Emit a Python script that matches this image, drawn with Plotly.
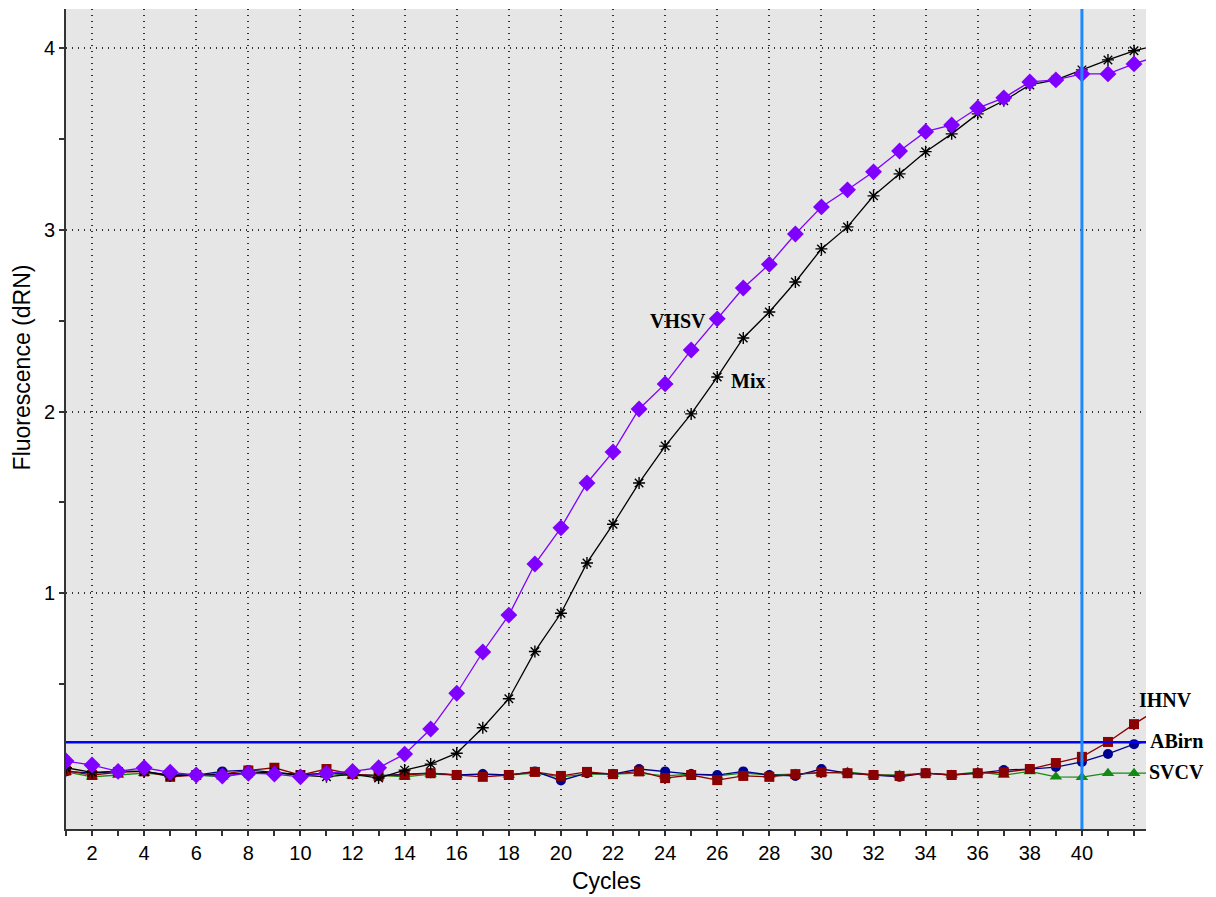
import plotly.graph_objects as go

cycles = list(range(1, 44))

vhsv = [0.077, 0.055, 0.02, 0.04, 0.015, 0.0, -0.005, 0.01, 0.005, -0.01, 0.01, 0.02, 0.04,
        0.115, 0.253, 0.45, 0.677, 0.88, 1.161, 1.36, 1.607, 1.778, 2.014, 2.152, 2.339,
        2.51, 2.68, 2.81, 2.977, 3.126, 3.22, 3.319, 3.434, 3.54, 3.577, 3.67, 3.726,
        3.814, 3.825, 3.858, 3.858, 3.913, 3.96]
mix = [0.04, 0.015, 0.02, 0.02, -0.005, 0.0, 0.005, 0.01, 0.015, 0.0, -0.01, 0.005, -0.017,
       0.027, 0.06, 0.12, 0.26, 0.42, 0.68, 0.89, 1.167, 1.38, 1.607, 1.81, 1.987, 2.19,
       2.405, 2.548, 2.713, 2.895, 3.016, 3.187, 3.308, 3.43, 3.528, 3.638, 3.71, 3.797,
       3.825, 3.88, 3.935, 3.985, 4.02]
ihnv = [0.025, 0.0, 0.015, 0.02, -0.01, 0.0, 0.005, 0.025, 0.04, 0.0, 0.033, 0.005, -0.005,
        0.0, 0.01, 0.0, -0.01, 0.0, 0.017, -0.005, 0.017, 0.005, 0.02, -0.017, 0.0, -0.028,
        -0.005, -0.01, 0.005, 0.015, 0.01, 0.0, -0.005, 0.01, 0.0, 0.01, 0.015, 0.033,
        0.066, 0.1, 0.182, 0.28, 0.37]
abirn = [0.02, 0.01, 0.02, 0.02, 0.0, 0.0, 0.02, 0.027, 0.015, 0.0, 0.01, 0.005, -0.005,
         0.005, 0.01, 0.0, 0.005, 0.0, 0.02, -0.03, 0.01, 0.005, 0.033, 0.02, 0.005, 0.0,
         0.02, 0.0, -0.005, 0.033, 0.01, 0.0, -0.01, 0.01, 0.0, 0.01, 0.027, 0.033,
         0.044, 0.072, 0.116, 0.17, 0.2]
svcv = [0.017, -0.01, 0.0, 0.01, 0.0, 0.0, -0.01, 0.01, 0.01, 0.0, 0.01, -0.005, 0.0,
        -0.01, 0.005, 0.0, 0.005, 0.0, 0.01, -0.01, 0.005, 0.005, 0.01, -0.005, 0.005, -0.005,
        0.01, 0.0, 0.005, 0.01, 0.017, 0.0, 0.0, 0.01, 0.0, 0.017, 0.0, 0.02,
        -0.01, -0.012, 0.01, 0.01, 0.01]

threshold = 0.18
cursor_cycle = 40

x_major = list(range(2, 43, 2))
x_labels = [str(v) if v <= 40 else "" for v in x_major]
x_minor = list(range(1, 43, 2))
y_major = [1, 2, 3, 4]
y_minor = [0.5, 1.5, 2.5, 3.5]

series = [
    ("SVCV", svcv, "#138a13", "triangle-up", 11),
    ("ABirn", abirn, "#000090", "circle", 10),
    ("IHNV", ihnv, "#8b0000", "square", 10),
    ("Mix", mix, "#000000", "asterisk-open", 10),
    ("VHSV", vhsv, "#8000ff", "diamond", 13),
]

fig = go.Figure()
for name, vals, col, sym, sz in series:
    mk = dict(symbol=sym, size=sz, color=col)
    if sym == "asterisk-open":
        mk["line"] = dict(color=col, width=1.4)
    fig.add_trace(go.Scatter(x=cycles, y=vals, mode="lines+markers", name=name,
                             line=dict(color=col, width=1.3), marker=mk))

fig.add_hline(y=threshold, line=dict(color="#0000ff", width=2.5))
fig.add_vline(x=cursor_cycle, line=dict(color="#1e88ff", width=3))

lab_font = dict(family="Liberation Serif", size=20, color="black")
# curve labels inside the plot (data coordinates)
fig.add_annotation(x=24.5, y=2.50, text="<b>VHSV</b>", showarrow=False, font=lab_font,
                   xanchor="center", yanchor="middle")
fig.add_annotation(x=27.18, y=2.17, text="<b>Mix</b>", showarrow=False, font=lab_font,
                   xanchor="center", yanchor="middle")
# curve labels right of the plot (paper coordinates)
side_labels = [("IHNV", 1.0185, 0.1574), ("ABirn", 1.0287, 0.1073), ("SVCV", 1.0287, 0.0696)]
for t, xx, yy in side_labels:
    fig.add_annotation(x=xx, y=yy, xref="paper", yref="paper", text="<b>%s</b>" % t,
                       showarrow=False, font=lab_font, xanchor="center", yanchor="middle")

title_font = dict(family="Liberation Sans", size=23, color="black")
fig.add_annotation(x=-0.0407, y=0.563, xref="paper", yref="paper", text="Fluorescence (dRN)",
                   textangle=-90, showarrow=False, font=title_font,
                   xanchor="center", yanchor="middle")
fig.add_annotation(x=0.5, y=-0.0634, xref="paper", yref="paper", text="Cycles",
                   showarrow=False, font=title_font, xanchor="center", yanchor="middle")

tick_font = dict(family="Liberation Sans", size=20, color="black")
grid_dash = "1px,5px"
# page body has an 8px margin, so the figure is sized to sit at the reference position
fig.update_layout(
    width=1208, height=889,
    margin=dict(l=58, r=70, t=1, b=68),
    paper_bgcolor="white", plot_bgcolor="#e6e6e6",
    showlegend=False,
    font=tick_font,
)
fig.update_xaxes(range=[1, 42.46], tickvals=x_major, ticktext=x_labels, automargin=False,
                 ticks="outside", ticklen=5, tickcolor="#333", tickwidth=1.5,
                 showgrid=True, gridcolor="#333", griddash=grid_dash, gridwidth=1.5,
                 showline=True, linecolor="#333", linewidth=2, zeroline=False,
                 minor=dict(tickvals=x_minor, ticks="outside", ticklen=5, tickcolor="#333",
                            showgrid=False),
                 tickfont=tick_font)
fig.update_yaxes(range=[-0.297, 4.215], tickvals=y_major, ticktext=[str(v) for v in y_major],
                 automargin=False,
                 ticks="outside", ticklen=5, tickcolor="#333", tickwidth=1.5,
                 showgrid=True, gridcolor="#333", griddash=grid_dash, gridwidth=1.5,
                 showline=True, linecolor="#333", linewidth=2, zeroline=False,
                 minor=dict(tickvals=y_minor, ticks="outside", ticklen=5, tickcolor="#333",
                            showgrid=False),
                 tickfont=tick_font)

fig.write_html("out.html")
